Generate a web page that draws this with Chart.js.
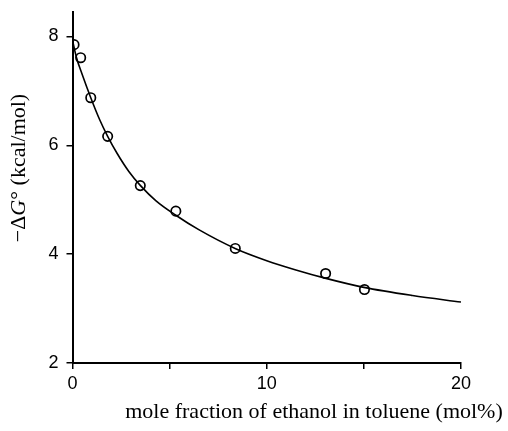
<!DOCTYPE html>
<html>
<head>
<meta charset="utf-8">
<script src="https://cdn.jsdelivr.net/npm/chart.js@4"></script>
<style>
html,body{margin:0;padding:0;background:#fff;}
#wrap{width:508px;height:431px;}
</style>
</head>
<body>
<div id="wrap"><canvas id="c" width="508" height="431"></canvas></div>
<script>
// measured data (mol% ethanol, -dG kcal/mol)
const obsX = [0.08, 0.42, 0.94, 1.81, 3.49, 5.32, 8.38, 13.03, 15.03];
const obsY = [7.85, 7.61, 6.875, 6.165, 5.26, 4.79, 4.105, 3.645, 3.35];
// fitted curve
const fitX = [0, 0.2, 0.5, 0.94, 1.4, 1.81, 2.3, 2.9, 3.5, 4.3, 5.3, 6.5, 8.4, 10, 11.5, 13, 15, 17.5, 20];
const fitY = [7.93, 7.62, 7.30, 6.875, 6.47, 6.165, 5.85, 5.52, 5.26, 4.98, 4.72, 4.45, 4.10, 3.88, 3.71, 3.56, 3.39, 3.24, 3.12];
const xTicks = [0, 5, 10, 15, 20];
const xTickLabels = ['0', '', '10', '', '20'];
const yTicks = [2, 4, 6, 8];
const yTickLabels = ['2', '4', '6', '8'];
const xTitle = 'mole fraction of ethanol in toluene (mol%)';
const yTitleParts = [['\u2212\u0394', false], ['G', true], ['\u00b0 (kcal/mol)', false]];

const titles = {
  id: 'titles',
  afterDraw(chart) {
    const ctx = chart.ctx;
    ctx.save();
    ctx.fillStyle = '#000';
    ctx.textBaseline = 'alphabetic';
    ctx.font = '22px "Liberation Serif"';
    ctx.textAlign = 'center';
    ctx.fillText(xTitle, 314, 418);
    // y title
    ctx.translate(25, 168);
    ctx.rotate(-Math.PI / 2);
    let total = 0;
    const fonts = yTitleParts.map(p => (p[1] ? 'italic ' : '') + '22px "Liberation Serif"');
    yTitleParts.forEach((p, i) => { ctx.font = fonts[i]; total += ctx.measureText(p[0]).width; });
    let x = -total / 2;
    ctx.textAlign = 'left';
    yTitleParts.forEach((p, i) => { ctx.font = fonts[i]; ctx.fillText(p[0], x, 0); x += ctx.measureText(p[0]).width; });
    ctx.restore();
  }
};

new Chart(document.getElementById('c'), {
  type: 'scatter',
  data: {
    datasets: [
      {
        data: fitX.map((x, i) => ({x, y: fitY[i]})),
        showLine: true,
        borderColor: '#000',
        borderWidth: 1.6,
        pointRadius: 0,
        cubicInterpolationMode: 'monotone',
        fill: false
      },
      {
        data: obsX.map((x, i) => ({x, y: obsY[i]})),
        showLine: false,
        pointRadius: 4.7,
        pointBorderWidth: 1.7,
        pointBorderColor: '#000',
        pointBackgroundColor: 'rgba(255,255,255,0)'
      }
    ]
  },
  options: {
    responsive: false,
    animation: false,
    layout: {padding: {top: 12, right: 47, left: 0, bottom: 0}},
    plugins: {legend: {display: false}, tooltip: {enabled: false}},
    scales: {
      x: {
        type: 'linear', min: 0, max: 20,
        afterBuildTicks: s => { s.ticks = xTicks.map(v => ({value: v})); },
        afterFit: s => { s.height = 68; s.paddingLeft = 0; s.paddingRight = 0; },
        grid: {drawOnChartArea: false, drawTicks: true, tickLength: 6, color: '#000', lineWidth: 1.5},
        border: {display: true, color: '#000', width: 2},
        ticks: {
          color: '#000', padding: 4, maxRotation: 0, autoSkip: false,
          font: {family: '"Liberation Sans"', size: 18},
          callback: (v, i) => xTickLabels[i]
        }
      },
      y: {
        type: 'linear', min: 2, max: 8.45,
        afterBuildTicks: s => { s.ticks = yTicks.map(v => ({value: v})); },
        afterFit: s => { s.width = 72.5; s.paddingTop = 0; s.paddingBottom = 0; },
        grid: {drawOnChartArea: false, drawTicks: true, tickLength: 6, color: '#000', lineWidth: 1.5},
        border: {display: true, color: '#000', width: 2},
        ticks: {
          color: '#000', padding: 8, autoSkip: false,
          font: {family: '"Liberation Sans"', size: 18},
          callback: (v, i) => yTickLabels[i]
        }
      }
    }
  },
  plugins: [titles]
});
</script>
</body>
</html>
